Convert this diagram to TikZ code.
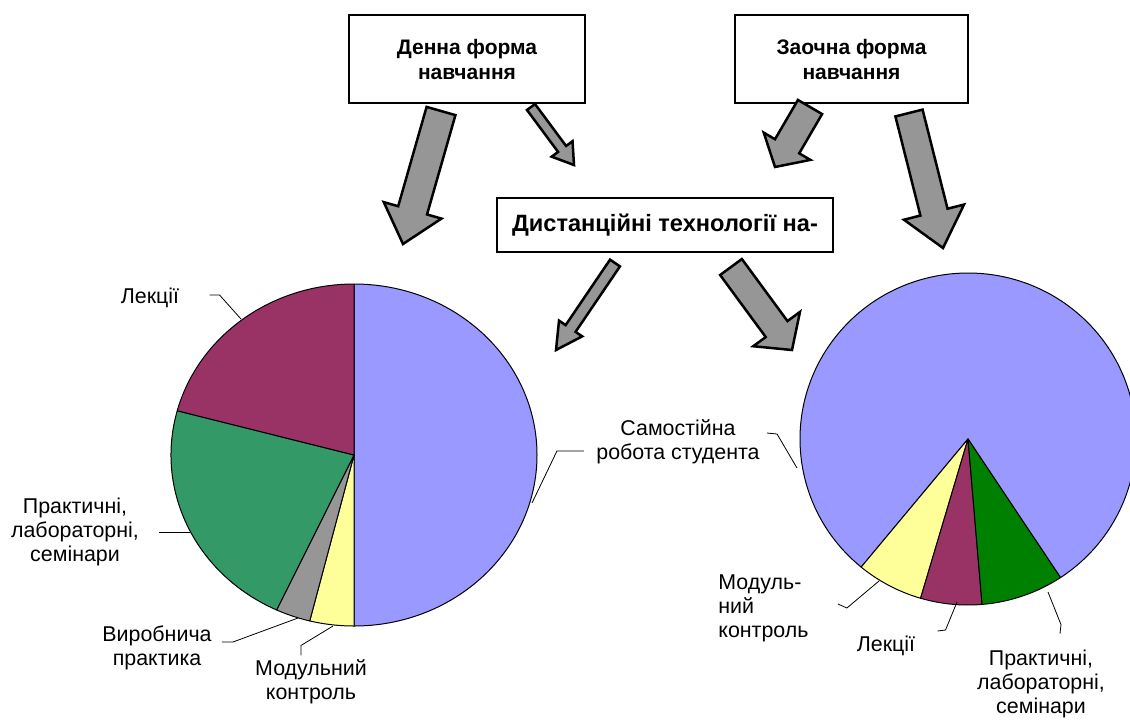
\documentclass[tikz,border=0pt]{standalone}
\usepackage{fontspec}
\setmainfont{Liberation Sans}
\usetikzlibrary{calc}
\definecolor{pieblue}{RGB}{153,153,255}
\definecolor{piemaroon}{RGB}{153,51,102}
\definecolor{piegreen}{RGB}{51,153,102}
\definecolor{piedkgreen}{RGB}{0,128,0}
\definecolor{pieyellow}{RGB}{255,255,153}
\definecolor{piegray}{RGB}{150,150,150}
\tikzset{
  box/.style={draw, line width=1.25pt, fill=white, align=center, inner sep=0pt,
    font=\fontsize{10.5}{12.5}\selectfont\bfseries},
  lbl/.style={align=center, inner sep=0pt},
  leader/.style={draw, line width=0.4pt},
  blockarr/.style={draw, line width=1.25pt, fill=piegray, line join=miter},
  slice/.style={draw, line width=0.5pt, line join=round}
}
% tail, tip, half shaft, half head, head length
\newcommand{\blockarrow}[5]{%
  \coordinate (hb) at ($(#2)!#5!(#1)$);
  \draw[blockarr] ($(#1)!#3!90:(#2)$) -- ($(hb)!#3!90:(#2)$) -- ($(hb)!#4!90:(#2)$)
    -- (#2) -- ($(hb)!#4!-90:(#2)$) -- ($(hb)!#3!-90:(#2)$) -- ($(#1)!#3!-90:(#2)$) -- cycle;}

\begin{document}
\begin{tikzpicture}[x=0.5pt, y=-0.5pt, font=\fontsize{10.7}{12}\selectfont]
  \useasboundingbox (0,0) rectangle (1130,720);

  \node[box, minimum width=118pt, minimum height=44pt] (1) at (467,59) {Денна форма\\навчання};
  \node[box, minimum width=116.5pt, minimum height=44pt] (2) at (851.5,59) {Заочна форма\\навчання};
  \node[box, minimum width=168pt, minimum height=27pt,
    font=\fontsize{11.8}{14}\selectfont\bfseries] (3) at (665,225) {Дистанційні технології на-};

  % pies
  \coordinate (c1) at (354,455);
  \coordinate (c2) at (968,439);
  \foreach \a/\b/\col in {-90/90/pieblue, 90/104/pieyellow, 104/115/piegray,
      115/195/piegreen, 195/270/piemaroon}
    \draw[slice, fill=\col] (c1) -- ++(\a:183 and 171)
      arc[start angle=\a, end angle=\b, x radius=183, y radius=171] -- cycle;
  \foreach \a/\b/\col in {129.5/416.6/pieblue, 106.4/129.5/pieyellow,
      85.2/106.4/piemaroon, 56.6/85.2/piedkgreen}
    \draw[slice, fill=\col] (c2) -- ++(\a:168 and 166)
      arc[start angle=\a, end angle=\b, x radius=168, y radius=166] -- cycle;

  % block arrows
  \coordinate (a1) at (441,111); \coordinate (a1t) at (403,244);
  \coordinate (a2) at (531,107); \coordinate (a2t) at (574,165);
  \coordinate (a3) at (810,107); \coordinate (a3t) at (775,167);
  \coordinate (a4) at (909,113); \coordinate (a4t) at (943,248);
  \coordinate (a5) at (615,263); \coordinate (a5t) at (556,350);
  \coordinate (a6) at (731,267); \coordinate (a6t) at (792,350);
  \blockarrow{a1}{a1t}{7.5pt}{15pt}{17.5pt}
  \blockarrow{a2}{a2t}{2.5pt}{6.5pt}{10pt}
  \blockarrow{a3}{a3t}{7pt}{13.5pt}{12pt}
  \blockarrow{a4}{a4t}{7pt}{15.5pt}{18.5pt}
  \blockarrow{a5}{a5t}{3pt}{7pt}{13pt}
  \blockarrow{a6}{a6t}{6.75pt}{14.5pt}{13pt}

  % labels
  \node[lbl] (lekL) at (150,298) {Лекції};
  \node[lbl] (prL) at (75,532) {Практичні,\\лабораторні,\\семінари};
  \node[lbl] (vyL) at (157,648) {Виробнича\\практика};
  \node[lbl] (moL) at (311,682) {Модульний\\контроль};
  \node[lbl] (sam) at (678,442) {Самостійна\\робота студента};
  \node[lbl, anchor=west, align=left] (moR) at (718,608) {Модуль-\\ний\\контроль};
  \node[lbl] (lekR) at (886,646) {Лекції};
  \node[lbl] (prR) at (1041,684) {Практичні,\\лабораторні,\\семінари};

  % leader lines
  \coordinate (p1) at (241,319);
  \coordinate (p2) at (190,532);
  \coordinate (p3) at (298,618);
  \coordinate (p4) at (333,626);
  \coordinate (p5) at (532,503);
  \coordinate (p6) at (797,468);
  \coordinate (p7) at (879,581);
  \coordinate (p8) at (957,602);
  \coordinate (p9) at (1048,592);
  \draw[leader] (lekL.east) ++(30,-3) -- ++(10,0) -- (p1);
  \draw[leader] (prL.east) ++(20,0) -- (p2);
  \draw[leader] (vyL.east) ++(10,-6) -- ++(11,0) -- (p3);
  \draw[leader] (moL.north) ++(-10,-4) -- ++(0,-10) -- (p4);
  \draw[leader] (sam.west) ++(-12,9) -- ++(-27,0) -- (p5);
  \draw[leader] (sam.east) ++(7,-9) -- ++(10,1) -- (p6);
  \draw[leader] (moR.east) ++(29,-4) -- ++(9,4) -- (p7);
  \draw[leader] (lekR.east) ++(22,-15) -- ++(8,-1) -- (p8);
  \draw[leader] (prR.north) ++(19,-16) -- ++(1,-9) -- (p9);
\end{tikzpicture}
\end{document}
